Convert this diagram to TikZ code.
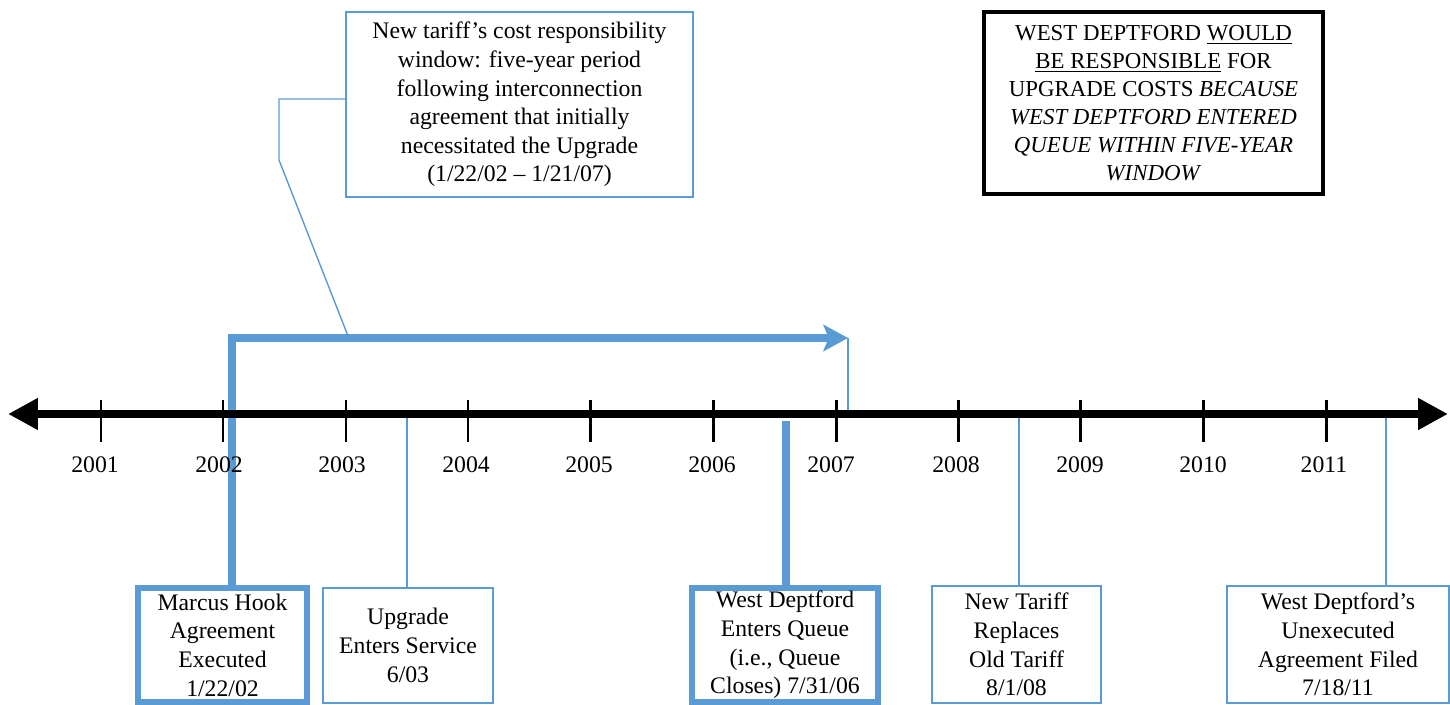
\documentclass[tikz,border=0pt]{standalone}
\usepackage{fontspec}
\setmainfont{Liberation Serif}
\usetikzlibrary{arrows.meta}
\definecolor{tblue}{RGB}{91,155,213}
\newcommand{\tfont}{\fontsize{13.5}{16.3}\selectfont}
\newcommand{\bfontx}{\fontsize{13}{16}\selectfont}
\begin{document}
\begin{tikzpicture}[x=0.02cm,y=-0.02cm,
  thinbox/.style={draw=tblue, line width=0.8pt, inner sep=0pt, align=center, font=\tfont},
  thickbox/.style={draw=tblue, line width=3.4pt, inner sep=0pt, align=center, font=\tfont},
  blackbox/.style={draw=black, line width=2.3pt, inner sep=0pt, align=center, font=\bfontx},
  thinlink/.style={draw=tblue, line width=0.8pt},
  thicklink/.style={draw=tblue, line width=4pt},
  axisline/.style={line width=5pt, {Triangle[length=17pt,width=17pt]}-{Triangle[length=17pt,width=17pt]}},
  tickmark/.style={line width=1.7pt},
  yearlabel/.style={font=\tfont, inner sep=0pt}
]
\useasboundingbox (0,0) rectangle (1450,705);

% boxes
\node[thickbox, minimum width=3.38cm, minimum height=2.28cm] (mh) at (222.5,645) {Marcus Hook\\Agreement\\Executed\\1/22/02};
\node[thinbox, minimum width=3.4cm, minimum height=2.3cm] (up) at (408,645.5) {Upgrade\\Enters Service\\6/03};
\node[thickbox, minimum width=3.72cm, minimum height=2.28cm] (wd) at (785,645) {West Deptford\\Enters Queue\\(i.e., Queue\\Closes) 7/31/06};
\node[thinbox, minimum width=3.38cm, minimum height=2.34cm] (nt) at (1016.5,644.5) {New Tariff\\Replaces\\Old Tariff\\8/1/08};
\node[thinbox, minimum width=4.44cm, minimum height=2.34cm] (ue) at (1338,644.5) {West Deptford’s\\Unexecuted\\Agreement Filed\\7/18/11};

\node[thinbox, minimum width=6.94cm, minimum height=3.7cm] (callout) at (519.5,104.5)
  {New tariff’s cost responsibility\\window: five-year period\\following interconnection\\agreement that initially\\necessitated the Upgrade\\(1/22/02 – 1/21/07)};
\node[blackbox, minimum width=6.78cm, minimum height=3.64cm] (note) at (1153.5,103)
  {WEST DEPTFORD \underline{WOULD}\\\underline{BE RESPONSIBLE} FOR\\UPGRADE COSTS \textit{BECAUSE}\\\textit{WEST DEPTFORD ENTERED}\\\textit{QUEUE WITHIN FIVE-YEAR}\\\textit{WINDOW}};

% coordinates
\coordinate (bc) at (232,338);
\coordinate (btip) at (848,338);
\coordinate (btipax) at (848,414);
\coordinate (k1) at (279,99);
\coordinate (k2) at (279,160);
\coordinate (k3) at (348,336);
\coordinate (upax) at (407,414);
\coordinate (wdax) at (786,421);
\coordinate (ntax) at (1019,414);
\coordinate (ueax) at (1386,414);
\coordinate (axL) at (8,414);
\coordinate (axR) at (1448,414);

% connectors
\draw[thicklink, line join=miter, -{Stealth[length=14pt,width=15pt,inset=3pt]}] (mh.north -| bc) -- (bc) -- (btip);
\draw[thinlink] (btip) -- (btipax);
\draw[thinlink] (callout.west |- k1) -- (k1) -- (k2) -- (k3);
\draw[thinlink] (upax) -- (up.north -| upax);
\draw[thicklink] (wdax) -- (wd.north -| wdax);
\draw[thinlink] (ntax) -- (nt.north -| ntax);
\draw[thinlink] (ueax) -- (ue.north -| ueax);

% axis
\foreach \x/\yr/\lx in {101/2001/95, 223/2002/219, 346/2003/342, 468/2004/466, 590/2005/589, 713/2006/712, 836/2007/831, 958/2008/956, 1080/2009/1080, 1203/2010/1203, 1326/2011/1324} {
  \draw[tickmark] (\x,400) -- (\x,442);
  \node[yearlabel] (y\yr) at (\lx,465) {\yr};
}
\draw[axisline] (axL) -- (axR);
\end{tikzpicture}
\end{document}
